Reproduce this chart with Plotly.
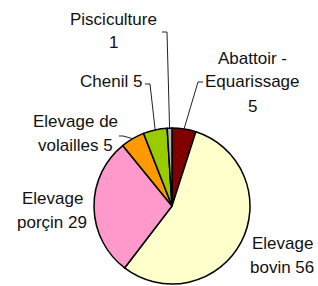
import math
import plotly.graph_objects as go

# ---- data ----
categories = ["Abattoir - Equarissage", "Elevage bovin", "Elevage porçin",
              "Elevage de volailles", "Chenil", "Pisciculture"]
values = [5, 56, 29, 5, 5, 1]
colors = ["#800000", "#FFFFCC", "#FF99CC", "#FF9900", "#99CC00", "#B4B4B4"]
label_lines = [["Abattoir -", "Equarissage", "5"],
               ["Elevage", "bovin 56"],
               ["Elevage", "porçin 29"],
               ["Elevage de", "volailles 5"],
               ["Chenil 5"],
               ["Pisciculture", "1"]]

W, H = 318, 286
CX, CY, R = 172, 206, 78

fig = go.Figure(go.Pie(
    labels=categories, values=values, sort=False, direction="clockwise",
    rotation=0, textinfo="none", hoverinfo="label+value",
    marker=dict(colors=colors, line=dict(color="#000000", width=1.5)),
    domain=dict(x=[(CX - R) / W, (CX + R) / W], y=[1 - (CY + R) / H, 1 - (CY - R) / H]),
    showlegend=False,
))

# label placement (pixels): first-line centre, line spacing
label_pos = {0: (252, 58), 1: (282, 243), 2: (52, 198), 3: (75, 121), 4: (111, 81), 5: (114, 19)}
LS = 24
# leader line start points (pixels) -> elbow
leader = {0: [(203, 82), (198, 82)], 3: [(119, 136), (123, 136)],
          4: [(145, 84), (150, 84)], 5: [(162, 32), (167, 32)]}

font = dict(family="Liberation Sans, Arial, sans-serif", size=17, color="#111111")
annotations = []
for i, lines in enumerate(label_lines):
    x0, y0 = label_pos[i]
    for j, t in enumerate(lines):
        annotations.append(dict(text=t, x=x0 / W, y=1 - (y0 + j * LS) / H, xref="paper", yref="paper",
                                xanchor="center", yanchor="middle", showarrow=False, font=font))

total = sum(values)
cum = 0
shapes = []
for i, v in enumerate(values):
    mid = (cum + v / 2) / total * 2 * math.pi
    cum += v
    if i in leader:
        ax = CX + R * math.sin(mid)
        ay = CY - R * math.cos(mid)
        pts = leader[i] + [(ax, ay)]
        path = "M " + " L ".join(f"{px / W:.4f},{1 - py / H:.4f}" for px, py in pts)
        shapes.append(dict(type="path", path=path, xref="paper", yref="paper",
                           line=dict(color="#222222", width=1)))

fig.update_layout(width=W, height=H, margin=dict(l=0, r=0, t=0, b=0),
                  paper_bgcolor="white", plot_bgcolor="white",
                  annotations=annotations, shapes=shapes)
fig.write_html("out.html", config={"displayModeBar": False},
               post_script="document.body.style.margin='0';document.body.style.overflow='hidden';")
